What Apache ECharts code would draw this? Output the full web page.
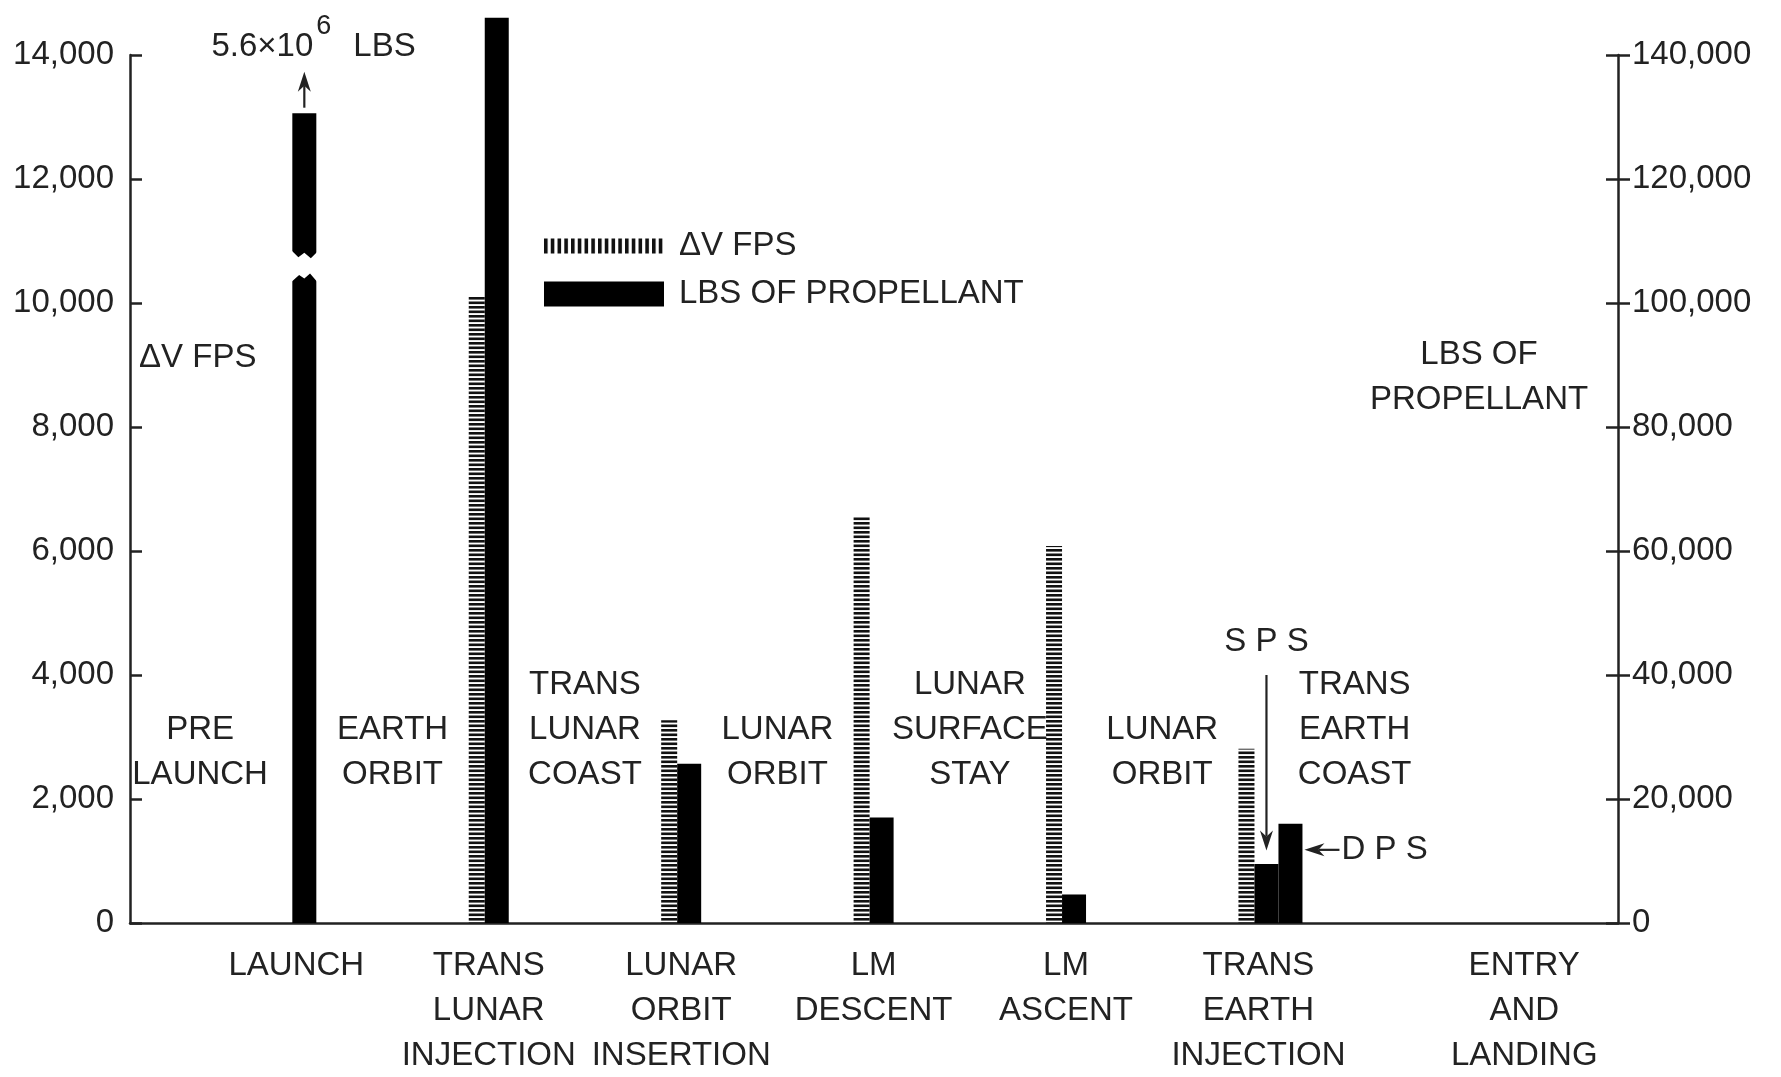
<!DOCTYPE html>
<html>
<head>
<meta charset="utf-8">
<title>Delta-V and propellant per burn</title>
<script src="https://cdn.jsdelivr.net/npm/echarts@6.0.0/dist/echarts.min.js"></script>
<style>
  html, body { margin: 0; padding: 0; background: #fff; }
  #main { width: 1781px; height: 1077px; }
</style>
</head>
<body>
<div id="main"></div>
<script>
// coast phases, and the burns that separate them
const phases = ['PRE\nLAUNCH', 'EARTH\nORBIT', 'TRANS\nLUNAR\nCOAST', 'LUNAR\nORBIT',
  'LUNAR\nSURFACE\nSTAY', 'LUNAR\nORBIT', 'TRANS\nEARTH\nCOAST'];
const burns = ['LAUNCH', 'TRANS\nLUNAR\nINJECTION', 'LUNAR\nORBIT\nINSERTION', 'LM\nDESCENT',
  'LM\nASCENT', 'TRANS\nEARTH\nINJECTION', 'ENTRY\nAND\nLANDING'];

// delta-V of each burn, fps
const deltaV = [null, 10100, 3270, 6550, 6080, 2810, null];
// propellant used by each burn, lbs (SPS at trans earth injection)
const propellant = [5600000, 146000, 25700, 17000, 4600, 9500, null];
// DPS propellant, trans earth injection only
const dpsPropellant = [null, null, null, null, null, 16000, null];

const fpsTicks = [0, 2000, 4000, 6000, 8000, 10000, 12000, 14000];
const lbsTicks = [0, 20000, 40000, 60000, 80000, 100000, 120000, 140000];

// launch is off scale: its bar is cut at launchCut and drawn with a break
const launchCut = 130600;
const launchBreak = [103400, 108500];

const ink = '#222';
const font = '"Liberation Sans", Arial, sans-serif';
const fontSize = 33;
const dvWidth = 16, lbsWidth = 24;

// interleave phases and burns on one category axis
const categories = [];
phases.forEach((p, i) => categories.push(p, burns[i]));
const lastCat = categories.length - 1;
const atBurns = arr => categories.map((c, i) => {
  if (i % 2 === 0) return '-';
  const v = arr[(i - 1) / 2];
  return v == null ? '-' : v;
});
const offScale = v => v != null && v > 1000000;

function stripes(w, h, vertical, period, thick) {
  const c = document.createElement('canvas');
  c.width = w;
  c.height = h;
  const ctx = c.getContext('2d');
  ctx.fillStyle = '#111';
  const n = Math.round((vertical ? w : h) / period);
  for (let i = 0; i < n; i++) {
    if (vertical) ctx.fillRect(i * period, 0, thick, h);
    else ctx.fillRect(0, i * period, w, thick);
  }
  return { image: c, repeat: 'repeat' };
}
const barHatch = stripes(16, 9, false, 4.5, 2.6);
const legendHatch = stripes(27, 20, true, 6.75, 3.6);

const labelStyle = { color: ink, fontFamily: font, fontSize: fontSize };
const centred = s => s.split('\n').map(t => '{c|' + t + '}').join('\n');

const chart = echarts.init(document.getElementById('main'));

const option = {
  animation: false,
  backgroundColor: '#fff',
  textStyle: { fontFamily: font },
  grid: [
    // frame: both scales and the base line
    { left: 130, right: 163, top: 55, bottom: 154, outerBoundsMode: 'none' },
    // bars and the phase / burn labels
    { left: 152, right: 282, top: 55, bottom: 154, outerBoundsMode: 'none' }
  ],
  legend: [
    {
      data: ['ΔV FPS'], left: 544, top: 228, padding: 0, orient: 'vertical',
      icon: 'rect', itemWidth: 120, itemHeight: 15, selectedMode: false,
      itemStyle: { color: legendHatch },
      textStyle: Object.assign({ lineHeight: 36, padding: [0, 0, 0, 10] }, labelStyle)
    },
    {
      data: ['LBS OF PROPELLANT'], left: 544, top: 276, padding: 0, orient: 'vertical',
      icon: 'rect', itemWidth: 120, itemHeight: 25, selectedMode: false,
      itemStyle: { color: '#000' },
      textStyle: Object.assign({ lineHeight: 36, padding: [0, 0, 0, 10] }, labelStyle)
    }
  ],
  xAxis: [
    {
      gridIndex: 0, type: 'category', data: [''],
      axisLine: { onZero: false, lineStyle: { color: ink, width: 2.5 } },
      axisTick: { show: false }, axisLabel: { show: false }
    },
    {
      // burn names under the base line; the last one hangs right of its slot
      gridIndex: 1, type: 'category',
      data: categories.map((c, i) => i === lastCat ? { value: c, textStyle: { align: 'left' } } : c),
      axisLine: { show: false, onZero: false }, axisTick: { show: false },
      axisLabel: Object.assign({
        interval: i => i % 2 === 1,
        hideOverlap: false,
        margin: 20,
        lineHeight: 45,
        formatter: (value, index) => index === lastCat ? centred(value) : value,
        rich: { c: Object.assign({ lineHeight: 45, align: 'center' }, labelStyle) }
      }, labelStyle)
    },
    {
      // phase names, hung above a hidden line inside the plot
      gridIndex: 1, type: 'category', data: categories, position: 'top', offset: -750,
      axisLine: { show: false, onZero: false }, axisTick: { show: false },
      axisLabel: Object.assign({
        interval: i => i % 2 === 0,
        hideOverlap: false,
        margin: 8,
        lineHeight: 45
      }, labelStyle)
    },
    {
      gridIndex: 1, type: 'category', data: categories, show: false,
      axisLine: { onZero: false }
    }
  ],
  yAxis: [
    {
      gridIndex: 0, type: 'value', position: 'left',
      min: fpsTicks[0], max: fpsTicks[fpsTicks.length - 1], interval: fpsTicks[1] - fpsTicks[0],
      axisLine: { show: true, lineStyle: { color: ink, width: 2.5 } },
      axisTick: { show: true, inside: true, length: 12, lineStyle: { color: ink, width: 2.5 } },
      splitLine: { show: false },
      axisLabel: Object.assign({ margin: 16, formatter: v => v.toLocaleString('en-US') }, labelStyle)
    },
    {
      gridIndex: 0, type: 'value', position: 'right',
      min: lbsTicks[0], max: lbsTicks[lbsTicks.length - 1], interval: lbsTicks[1] - lbsTicks[0],
      axisLine: { show: true, lineStyle: { color: ink, width: 2.5 } },
      axisTick: { show: true, inside: false, length: 12, lineStyle: { color: ink, width: 2.5 } },
      splitLine: { show: false },
      axisLabel: Object.assign({ margin: 14, formatter: v => v.toLocaleString('en-US') }, labelStyle)
    },
    {
      // inner half of the right-hand cross ticks
      gridIndex: 0, type: 'value', position: 'right',
      min: lbsTicks[0], max: lbsTicks[lbsTicks.length - 1], interval: lbsTicks[1] - lbsTicks[0],
      axisLine: { show: false },
      axisTick: { show: true, inside: true, length: 12, lineStyle: { color: ink, width: 2.5 } },
      splitLine: { show: false }, axisLabel: { show: false }
    },
    {
      gridIndex: 1, type: 'value', show: false,
      min: fpsTicks[0], max: fpsTicks[fpsTicks.length - 1], splitLine: { show: false }
    },
    {
      gridIndex: 1, type: 'value', show: false,
      min: lbsTicks[0], max: lbsTicks[lbsTicks.length - 1], splitLine: { show: false }
    }
  ],
  series: [
    {
      name: 'ΔV FPS', type: 'bar', xAxisIndex: 1, yAxisIndex: 3,
      data: atBurns(deltaV), barWidth: dvWidth, barGap: 0,
      itemStyle: { color: barHatch }, emphasis: { disabled: true }
    },
    {
      name: 'LBS OF PROPELLANT', type: 'bar', xAxisIndex: 1, yAxisIndex: 4,
      data: atBurns(propellant.map(v => offScale(v) ? launchCut : v)),
      barWidth: lbsWidth, barGap: 0, clip: false,
      itemStyle: { color: '#000' }, emphasis: { disabled: true }
    },
    {
      // empty series that pushes the DPS bar to the right of the SPS bar
      name: 'spacer', type: 'bar', xAxisIndex: 3, yAxisIndex: 4,
      data: [], barWidth: dvWidth + 2 * lbsWidth, barGap: 0
    },
    {
      name: 'DPS', type: 'bar', xAxisIndex: 3, yAxisIndex: 4,
      data: atBurns(dpsPropellant), barWidth: lbsWidth, barGap: 0,
      itemStyle: { color: '#000' }, emphasis: { disabled: true }
    }
  ]
};

chart.setOption(option);

// ---- annotations, placed through the propellant scale ----
const toPx = (cat, lbs) => chart.convertToPixel({ seriesIndex: 1 }, [cat, lbs]);
const lbsOffset = -(dvWidth + lbsWidth) / 2 + dvWidth;   // left edge of a black bar from the category centre

function text(str, x, y, align, vAlign, size) {
  return {
    type: 'text', x, y, z: 100, silent: true,
    style: {
      text: str, fill: ink, fontFamily: font, fontSize: size || fontSize, lineHeight: 45,
      align, verticalAlign: vAlign, textAlign: align, textVerticalAlign: vAlign
    }
  };
}

function arrow(x1, y1, x2, y2) {
  const len = 20, half = 6.5;
  const d = Math.hypot(x2 - x1, y2 - y1);
  const ux = (x2 - x1) / d, uy = (y2 - y1) / d;
  const bx = x2 - ux * len, by = y2 - uy * len;
  const nx = x2 - ux * len * 0.7, ny = y2 - uy * len * 0.7;
  return [
    { type: 'line', z: 100, silent: true, shape: { x1, y1, x2: nx, y2: ny }, style: { stroke: ink, lineWidth: 2.2 } },
    {
      type: 'polygon', z: 100, silent: true,
      shape: { points: [[x2, y2], [bx - uy * half, by + ux * half], [nx, ny], [bx + uy * half, by - ux * half]] },
      style: { fill: ink }
    }
  ];
}

const graphics = [];

// launch: broken bar, arrow and total
const li = burns.indexOf('LAUNCH') * 2 + 1;
const [lc] = toPx(li, 0);
const x0 = lc + lbsOffset - 1, x1 = lc + lbsOffset + lbsWidth + 1, w = x1 - x0;
const yLo = toPx(li, launchBreak[0])[1];
const yHi = toPx(li, launchBreak[1])[1];
graphics.push({
  type: 'polygon', z: 100, silent: true,
  shape: {
    points: [
      [x0, yHi], [x0 + w * 0.27, yHi + 7], [x0 + w * 0.5, yHi + 2.5], [x0 + w * 0.75, yHi + 8], [x1, yHi + 1.5],
      [x1, yLo], [x0 + w * 0.72, yLo - 8.5], [x0 + w * 0.5, yLo - 3.5], [x0 + w * 0.3, yLo - 7], [x0, yLo]
    ]
  },
  style: { fill: '#fff' }
});
const ax = lc + lbsOffset + lbsWidth / 2;
const aBot = toPx(li, launchCut + 900)[1];
const aTop = toPx(li, launchCut + 6700)[1];
graphics.push(...arrow(ax, aBot, ax, aTop));
graphics.push(text('5.6×10', ax + 9, aTop - 25, 'right', 'middle'));
graphics.push(text('6', ax + 12, aTop - 45, 'left', 'middle', 27));
graphics.push(text('LBS', ax + 49, aTop - 25, 'left', 'middle'));

// trans earth injection: SPS and DPS pointers
const ti = burns.indexOf('TRANS\nEARTH\nINJECTION') * 2 + 1;
const [tc] = toPx(ti, 0);
const spsX = tc + lbsOffset + lbsWidth / 2;
const spsTop = toPx(ti, 40000)[1];
const spsTip = toPx(ti, propellant[5] + 2200)[1];
graphics.push(...arrow(spsX, spsTop, spsX, spsTip));
graphics.push(text('S P S', spsX, spsTop - 33, 'center', 'middle'));
const dpsRight = tc + lbsOffset + 2 * lbsWidth;
const dpsY = toPx(ti, 11800)[1];
graphics.push(...arrow(dpsRight + 37, dpsY, dpsRight + 2, dpsY));
graphics.push(text('D P S', dpsRight + 39, dpsY, 'left', 'middle'));

// axis titles
graphics.push(text('ΔV FPS', 139, 358, 'left', 'middle'));
graphics.push(text('LBS OF\nPROPELLANT', 1479, 377, 'center', 'middle'));

chart.setOption({ graphic: graphics });
</script>
</body>
</html>
